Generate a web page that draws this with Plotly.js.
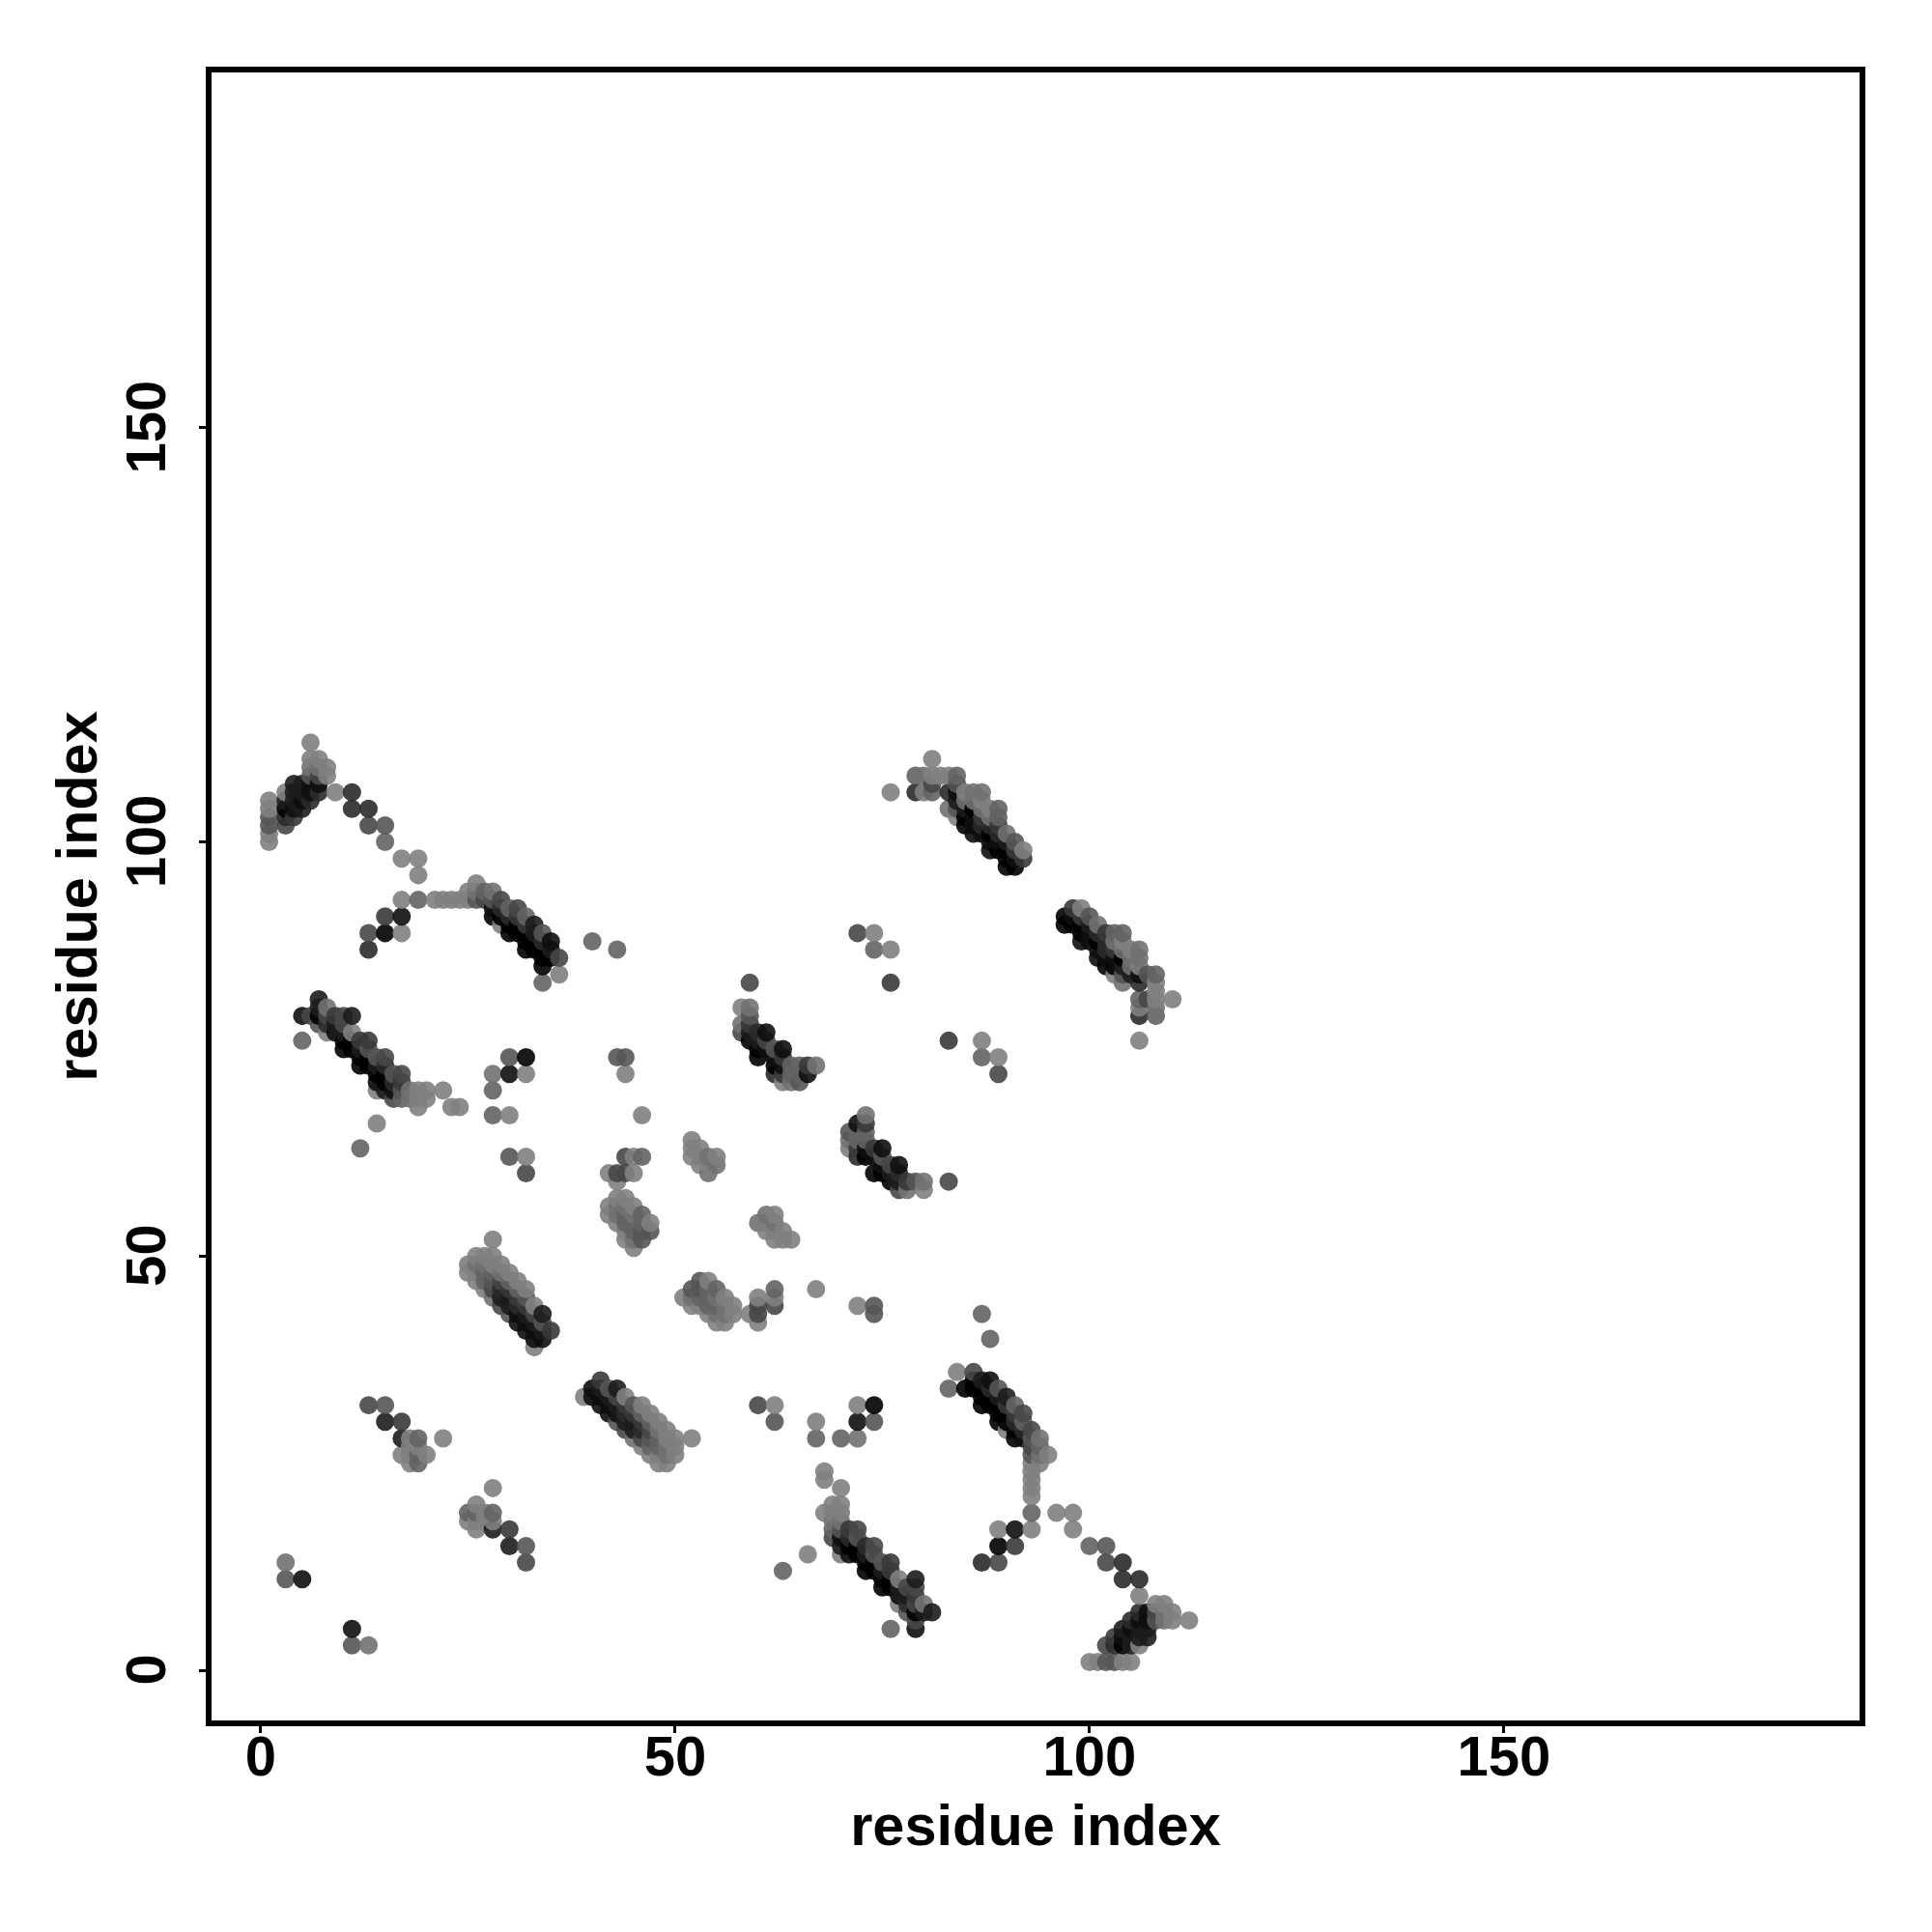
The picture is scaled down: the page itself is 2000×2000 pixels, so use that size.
<!DOCTYPE html>
<html>
<head>
<meta charset="utf-8">
<script src="https://cdn.plot.ly/plotly-3.0.1.min.js"></script>
<style>html,body{margin:0;padding:0;background:#fff}</style>
</head>
<body>
<div id="chart" style="width:2000px;height:2000px"></div>
<script>
// Contacts are read from the upper triangle as [i, j, strength 0-9]; the map is symmetric.
const strandA = [[1,100,0],[1,101,0],[1,102,3],[1,103,3],[1,104,0],[1,105,0],[3,102,4],[3,103,6],[3,104,9],[3,105,7],[3,106,0],[4,103,5],[4,104,8],[4,105,7],[4,106,7],[4,107,7],[5,104,7],[5,105,8],[5,106,7],[5,107,7],[6,105,6],[6,106,8],[6,107,8],[6,108,3],[6,109,1],[6,110,0],[6,112,0],[7,106,6],[7,107,8],[7,108,4],[7,109,1],[7,110,0],[8,108,0],[8,109,0],[9,106,0],[11,106,6],[11,104,6],[13,104,6],[13,102,4],[15,102,3],[15,100,2],[17,98,0],[19,98,0],[19,96,0]];
const strandB = [[17,93,0],[19,93,2],[21,93,0],[22,93,0],[23,93,0],[24,93,0],[25,93,0],[25,94,0],[26,93,3],[26,94,1],[26,95,0],[27,93,4],[27,94,2],[28,91,9],[28,92,8],[28,93,3],[28,94,1],[29,90,0],[29,91,9],[29,92,6],[29,93,4],[30,89,9],[30,90,9],[30,91,6],[30,92,2],[31,89,9],[31,90,9],[31,91,5],[31,92,4],[32,87,9],[32,88,9],[32,89,9],[32,90,5],[32,91,2],[33,87,9],[33,88,9],[33,89,7],[33,90,7],[34,85,9],[34,86,9],[34,87,9],[34,88,6],[34,89,3],[35,86,9],[35,87,7],[35,88,8],[36,86,4],[36,84,0],[34,83,2],[40,88,2],[43,87,2],[15,91,5],[17,91,8],[13,89,4],[15,89,9],[17,89,0],[13,87,6]];
const strandC = [[5,79,8],[5,76,2],[6,79,4],[7,78,3],[7,79,9],[7,80,7],[7,81,7],[8,77,0],[8,78,6],[8,79,4],[8,80,1],[9,77,8],[9,78,7],[9,79,5],[10,75,9],[10,76,9],[10,77,7],[10,78,4],[10,79,4],[11,75,9],[11,76,9],[11,77,0],[11,79,7],[12,73,9],[12,74,9],[12,75,7],[12,76,5],[13,73,9],[13,74,9],[13,75,3],[13,76,5],[14,70,0],[14,71,8],[14,72,9],[14,73,7],[14,74,3],[15,70,7],[15,71,9],[15,72,9],[15,73,6],[15,74,4],[16,69,4],[16,70,8],[16,71,6],[16,72,3],[17,69,2],[17,70,3],[17,71,5],[17,72,4],[18,69,1],[18,70,1],[19,68,0],[19,69,0],[19,70,0],[20,69,0],[20,70,0],[22,70,0],[23,68,0],[24,68,0]];
const scattered = [[14,66,0],[12,63,2],[28,70,2],[28,67,2],[30,67,0],[30,62,3],[32,62,0],[32,60,4],[28,72,1],[30,72,8],[32,72,0],[30,74,3],[32,74,9],[43,74,3],[44,74,3],[44,72,0],[46,67,0],[44,62,4],[45,62,0],[46,62,2],[42,60,0],[43,60,4],[44,60,4],[45,60,0],[43,59,0],[3,13,1],[3,11,3],[5,11,8],[72,89,4],[74,89,0],[74,87,2],[76,87,0],[76,83,5],[76,106,0]];
const clusterD = [[42,55,0],[42,56,0],[43,54,0],[43,55,1],[43,56,1],[43,57,0],[44,52,0],[44,53,0],[44,54,2],[44,55,2],[44,56,1],[44,57,0],[45,51,0],[45,52,1],[45,53,2],[45,54,2],[45,55,1],[45,56,0],[46,52,3],[46,53,3],[46,54,2],[46,55,2],[47,53,3],[47,54,0],[52,62,0],[52,63,0],[52,64,0],[53,61,0],[53,62,0],[53,63,0],[54,60,1],[54,61,0],[54,62,1],[55,61,1],[55,62,0]];
const strandE = [[25,48,0],[25,49,0],[26,47,0],[26,48,0],[26,49,1],[26,50,0],[27,46,0],[27,47,2],[27,48,2],[27,49,1],[27,50,0],[28,45,1],[28,46,4],[28,47,3],[28,48,2],[28,49,0],[28,50,0],[28,52,0],[29,44,4],[29,45,7],[29,46,6],[29,47,4],[29,48,1],[29,49,0],[30,43,3],[30,44,7],[30,45,7],[30,46,5],[30,47,2],[30,48,0],[31,42,8],[31,43,8],[31,44,6],[31,45,5],[31,46,2],[31,47,0],[32,41,8],[32,42,8],[32,43,7],[32,44,5],[32,45,3],[32,46,0],[33,39,0],[33,40,8],[33,41,8],[33,42,7],[33,43,4],[33,44,0],[34,40,8],[34,41,7],[34,42,3],[34,43,7],[35,41,5]];
const groupF = [[13,32,4],[15,32,3],[15,30,7],[17,30,5],[17,28,7],[18,28,0],[19,28,2],[22,28,0],[17,26,0],[18,26,0],[18,25,0],[19,25,2],[19,26,2],[19,27,0],[20,26,0],[18,27,0]];
const strandG = [[58,77,4],[58,78,1],[58,80,0],[59,76,9],[59,77,7],[59,78,5],[59,79,3],[59,80,1],[59,83,4],[60,74,9],[60,75,9],[60,76,7],[60,77,6],[61,75,8],[61,76,4],[61,77,8],[62,72,6],[62,73,9],[62,74,8],[62,75,3],[63,71,0],[63,72,5],[63,73,8],[63,74,5],[63,75,8],[64,71,1],[64,72,2],[64,73,2],[65,71,3],[65,72,2],[65,73,2],[66,72,8],[66,73,5],[67,73,1]];
const strandH = [[79,106,6],[79,108,2],[80,106,0],[80,108,1],[81,106,2],[81,107,4],[81,108,0],[81,110,0],[82,108,0],[83,104,1],[83,106,6],[83,108,0],[84,103,0],[84,104,3],[84,105,7],[84,106,8],[84,107,3],[84,108,2],[85,102,9],[85,103,9],[85,104,7],[85,105,1],[85,106,0],[86,101,8],[86,102,8],[86,103,8],[86,104,9],[86,105,1],[86,106,1],[87,101,8],[87,102,6],[87,103,5],[87,104,1],[87,105,0],[87,106,1],[88,99,8],[88,100,8],[88,101,9],[88,102,6],[88,103,1],[88,104,0],[89,99,9],[89,100,8],[89,101,6],[89,102,5],[89,103,2],[89,104,2],[90,97,9],[90,98,9],[90,99,9],[90,100,7],[90,101,1],[91,97,9],[91,98,8],[91,99,5],[91,100,3],[92,98,5],[92,99,0]];

const tickValues = [0, 50, 100, 150];
const tickLabels = ['0', '50', '100', '150'];
const axisLabel = 'residue index';

const contacts = [].concat(strandA, strandB, strandC, scattered, clusterD, strandE, groupF, strandG, strandH);
const cells = [];
contacts.forEach(c => { cells.push([c[0], c[1], c[2]]); cells.push([c[1], c[0], c[2]]); });
cells.sort((a, b) => a[0] - b[0] || a[1] - b[1]);

const family = '"Liberation Sans", Arial, sans-serif';
const axisBase = {
  tickmode: 'array', tickvals: tickValues, ticktext: tickLabels,
  showgrid: false, zeroline: false, showline: true, mirror: true,
  linecolor: '#000', linewidth: 6, ticks: 'outside', ticklen: 7, tickwidth: 3, tickcolor: '#000',
  tickfont: {family: family, size: 58, color: '#000', weight: 'bold'}
};
const titleFont = {family: family, size: 59.5, color: '#000', weight: 'bold'};

Plotly.newPlot('chart', [{
  type: 'scatter', mode: 'markers',
  x: cells.map(c => c[0]), y: cells.map(c => c[1]),
  marker: {
    size: 19, opacity: 0.9, line: {width: 0},
    color: cells.map(c => c[2]), cmin: 0, cmax: 9,
    colorscale: [[0, '#7f7f7f'], [1, '#000000']], showscale: false
  },
  hoverinfo: 'skip'
}], {
  width: 2000, height: 2000, showlegend: false,
  paper_bgcolor: '#fff', plot_bgcolor: '#fff',
  margin: {l: 219, r: 75, t: 75, b: 219, pad: 0},
  xaxis: Object.assign({}, axisBase, {
    range: [-5.94, 192.9], tickangle: 0, ticklabelstandoff: -26,
    title: {text: axisLabel, standoff: 22, font: titleFont}
  }),
  yaxis: Object.assign({}, axisBase, {
    range: [-6.06, 192.9], tickangle: -90, ticklabelstandoff: 12, ticklabelshift: 8,
    title: {text: axisLabel, standoff: 0, font: titleFont}
  })
}, {staticPlot: true, displayModeBar: false});
</script>
</body>
</html>
